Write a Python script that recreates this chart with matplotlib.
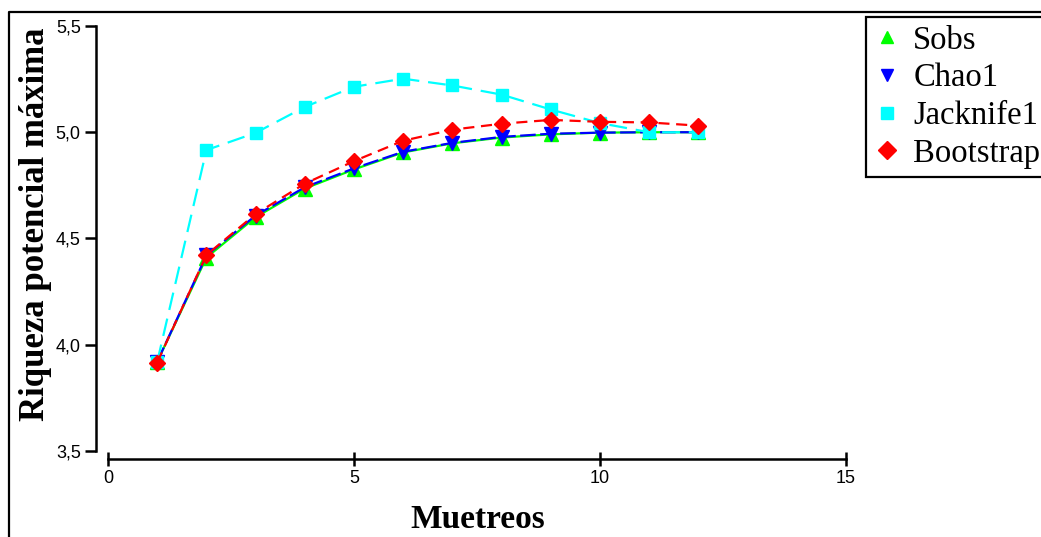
import matplotlib.pyplot as plt
import numpy as np
from matplotlib.lines import Line2D
from matplotlib.ticker import FuncFormatter

plt.rcParams["font.family"] = "Liberation Sans"

# muestreos 1..12
muestreos = np.arange(1, 13)
sobs = [3.92, 4.41, 4.60, 4.735, 4.825, 4.905, 4.948, 4.975, 4.99, 4.998, 5.0, 5.0]
chao1 = [3.92, 4.42, 4.608, 4.741, 4.83, 4.908, 4.95, 4.978, 4.993, 4.998, 5.0, 5.0]
jacknife1 = [3.919, 4.916, 4.997, 5.119, 5.214, 5.252, 5.220, 5.177, 5.107, 5.043, 5.0, 5.0]
bootstrap = [3.916, 4.422, 4.615, 4.758, 4.864, 4.960, 5.012, 5.040, 5.058, 5.049, 5.046, 5.031]

series_names = ["Sobs", "Chao1", "Jacknife1", "Bootstrap"]
colors = ["#00ff00", "#0000ff", "#00ffff", "#ff0000"]
markers = ["^", "v", "s", "D"]

W, H = 1041, 537
fig = plt.figure(figsize=(W / 100, H / 100), dpi=100)
ax = fig.add_axes([96 / W, 1 - 459 / H, (846 - 96) / W, (459 - 26) / H])

#lines with their own dash styles
ax.plot(muestreos, sobs, color=colors[0], marker=markers[0], ms=10, lw=1.6)
ax.plot(muestreos, chao1, color=colors[1], marker=markers[1], ms=10, lw=1.6, dashes=(7, 2))
ax.plot(muestreos, jacknife1, color=colors[2], marker=markers[2], ms=9, lw=1.6, dashes=(8, 4))
ax.plot(muestreos, bootstrap, color=colors[3], marker=markers[3], ms=8.5, lw=1.6, dashes=(5, 3))

ax.set_xlim(-0.244, 15)
ax.set_ylim(3.462, 5.5)
ax.set_xticks([0, 5, 10, 15])
ax.set_yticks([3.5, 4.0, 4.5, 5.0, 5.5])

ax.spines["top"].set_visible(False)
ax.spines["right"].set_visible(False)
ax.spines["left"].set_bounds(3.5, 5.5)
ax.spines["bottom"].set_bounds(0, 15)
for s in ["left", "bottom"]:
    ax.spines[s].set_linewidth(1.8)

ax.xaxis.set_major_formatter(FuncFormatter(lambda v, p: f"{v:g}"))
ax.yaxis.set_major_formatter(FuncFormatter(lambda v, p: f"{v:.1f}".replace(".", ",")))
ax.tick_params(axis="x", direction="inout", length=10, width=1.8, labelsize=13, pad=3)
ax.tick_params(axis="y", direction="out", length=8, width=1.8, labelsize=13, pad=3)

fig.text(478 / W, 1 - 519 / H, "Muetreos", fontsize=24, fontweight="bold",
         family="Liberation Serif", ha="center", va="center")
fig.text(36 / W, 1 - 224 / H, "Riqueza potencial máxima", fontsize=25, fontweight="bold",
         family="Liberation Serif", ha="center", va="center", rotation=90)

#outer frame (top and left only)
fig.add_artist(Line2D([9 / W, 9 / W, 1], [0, 1 - 12 / H, 1 - 12 / H],
                      transform=fig.transFigure, color="black", lw=1.6))

handles = [Line2D([], [], ls="none", marker=m, color=c, ms=9) for m, c in zip(markers, colors)]
leg = fig.legend(handles, series_names, loc="upper left",
                 bbox_to_anchor=(866 / W, 1 - 17 / H), bbox_transform=fig.transFigure,
                 borderaxespad=0, fancybox=False, framealpha=1, edgecolor="black",
                 prop={"family": "Liberation Serif", "size": 23.5},
                 handlelength=0.8, handletextpad=0.4, labelspacing=0.22, borderpad=0.25)
leg.get_frame().set_linewidth(1.6)

fig.savefig("out.png", dpi=100)
